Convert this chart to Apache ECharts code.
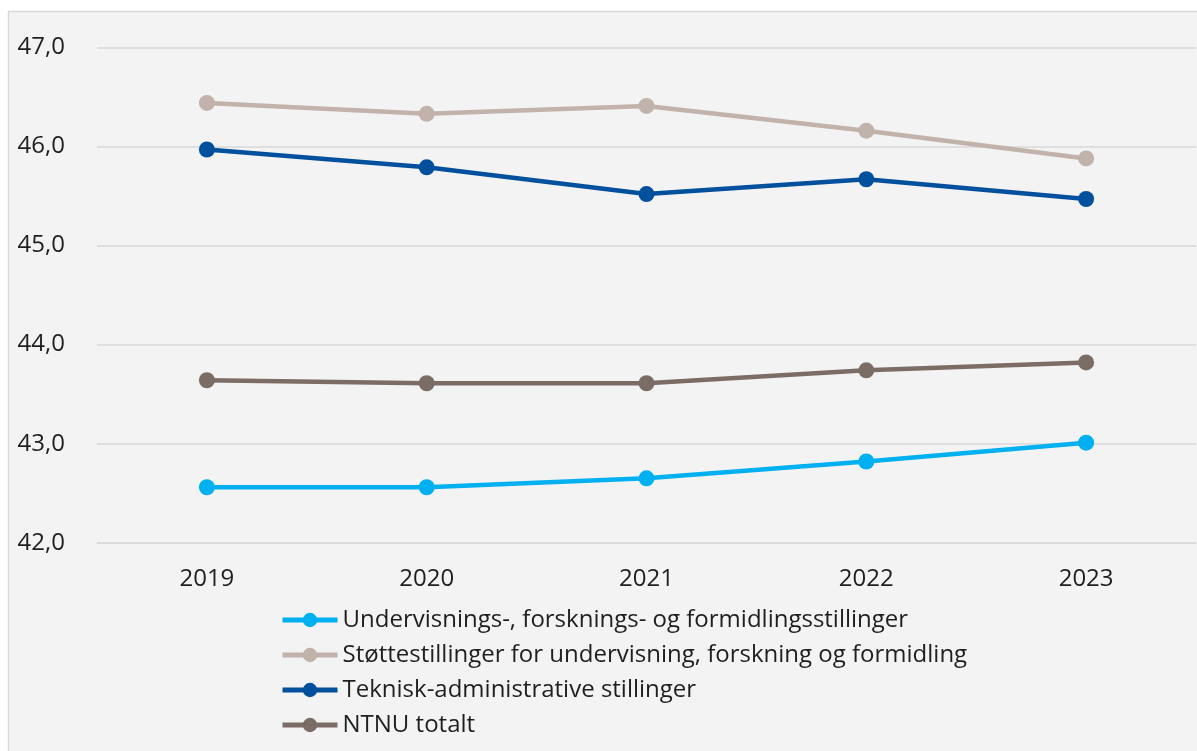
<!DOCTYPE html>
<html>
<head>
<meta charset="utf-8">
<script src="https://cdn.jsdelivr.net/npm/echarts@6/dist/echarts.min.js"></script>
<style>
  html, body { margin: 0; padding: 0; background: #ffffff; }
  #chart { width: 1197px; height: 751px; }
</style>
</head>
<body>
<div id="chart"></div>
<script>
// Gjennomsnittsalder per stillingsgruppe, 2019–2023
const years = ['2019', '2020', '2021', '2022', '2023'];
const undervisning = [42.56, 42.56, 42.65, 42.82, 43.01];
const stotte = [46.44, 46.33, 46.41, 46.16, 45.88];
const teknisk = [45.97, 45.79, 45.52, 45.67, 45.47];
const ntnu = [43.64, 43.61, 43.61, 43.74, 43.82];

const seriesNames = [
  'Undervisnings-, forsknings- og formidlingsstillinger',
  'Støttestillinger for undervisning, forskning og formidling',
  'Teknisk-administrative stillinger',
  'NTNU totalt'
];
const seriesColors = ['#00b0f0', '#c1b2ab', '#00509e', '#7b6d66'];
const seriesData = [undervisning, stotte, teknisk, ntnu];

const FONT = '"Open Sans", "Noto Sans", sans-serif';
const TEXT = '#1f1f1f';
const FS = 24;

const chart = echarts.init(document.getElementById('chart'), null, { renderer: 'canvas' });

chart.setOption({
  backgroundColor: '#ffffff',
  animation: false,
  textStyle: { fontFamily: FONT },
  graphic: [{
    type: 'rect',
    z: -10,
    shape: { x: 8.5, y: 11.5, width: 1200, height: 760 },
    style: { fill: '#f3f3f3', stroke: '#d9d9d9', lineWidth: 1.5 }
  }],
  grid: { left: 97, right: 1, top: 47.5, bottom: 208.3, containLabel: false },
  xAxis: {
    type: 'category',
    data: years,
    boundaryGap: true,
    axisLine: { show: true, lineStyle: { color: '#d9d9d9', width: 1.5 } },
    axisTick: { show: false },
    axisLabel: { color: TEXT, fontSize: FS, fontFamily: FONT, margin: 24 }
  },
  yAxis: {
    type: 'value',
    min: 42,
    max: 47,
    interval: 1,
    axisLine: { show: false },
    axisTick: { show: false },
    splitLine: { lineStyle: { color: '#d9d9d9', width: 1.5 } },
    axisLabel: {
      color: TEXT, fontSize: FS, fontFamily: FONT, margin: 32,
      formatter: v => v.toFixed(1).replace('.', ',')
    }
  },
  legend: {
    orient: 'vertical',
    left: 275,
    top: 601,
    itemWidth: 55,
    itemHeight: 18,
    itemGap: 7,
    data: seriesNames,
    lineStyle: { width: 5 },
    textStyle: { color: TEXT, fontSize: FS, fontFamily: FONT, lineHeight: 28 }
  },
  series: seriesNames.map((name, i) => ({
    name: name,
    type: 'line',
    data: seriesData[i],
    symbol: 'circle',
    symbolSize: 16,
    color: seriesColors[i],
    lineStyle: { width: 4.5, color: seriesColors[i] },
    itemStyle: { color: seriesColors[i] }
  }))
});
</script>
</body>
</html>
